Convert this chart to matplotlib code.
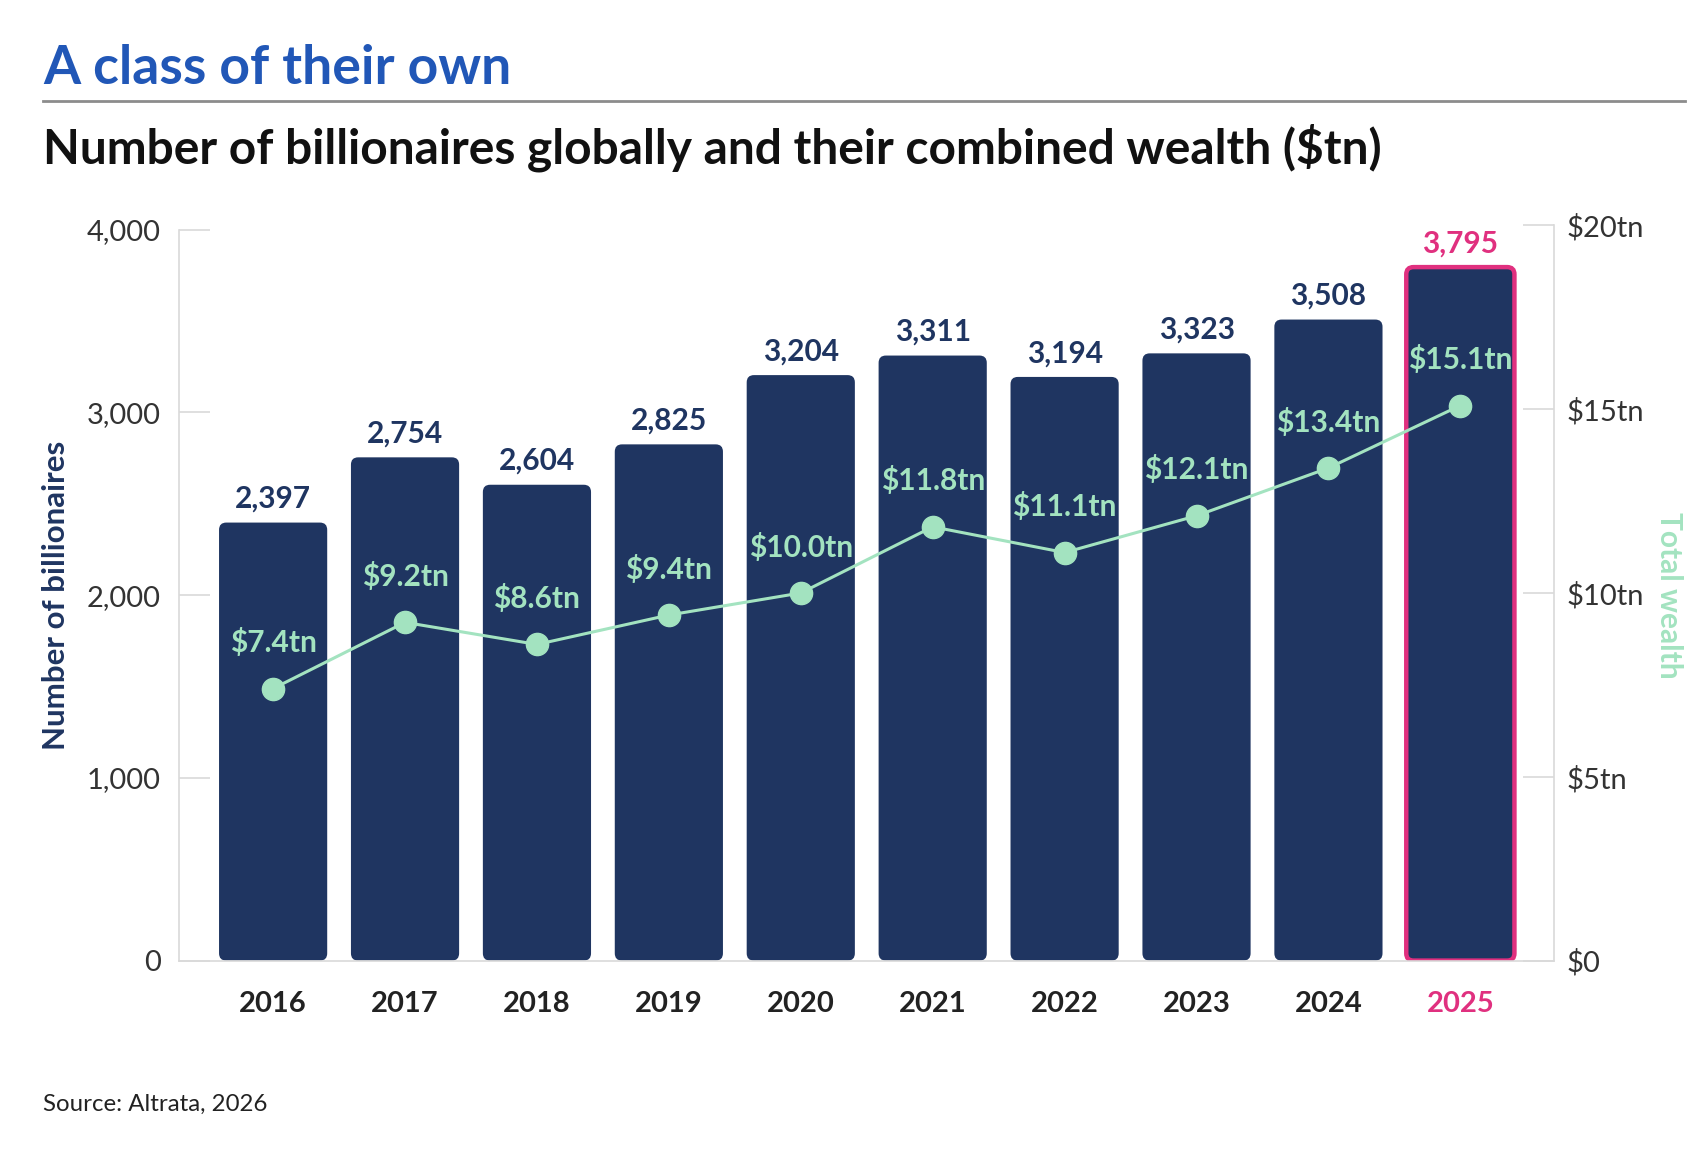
import matplotlib
matplotlib.use('Agg')
import matplotlib.pyplot as plt
from matplotlib.patches import FancyBboxPatch

# data
years = ['2016', '2017', '2018', '2019', '2020', '2021', '2022', '2023', '2024', '2025']
billionaires = [2397, 2754, 2604, 2825, 3204, 3311, 3194, 3323, 3508, 3795]
wealth_tn = [7.4, 9.2, 8.6, 9.4, 10.0, 11.8, 11.1, 12.1, 13.4, 15.1]
left_ticks = [0, 1000, 2000, 3000, 4000]
right_ticks = [0, 5, 10, 15, 20]
right_ticklabels = ['$0', '$5tn', '$10tn', '$15tn', '$20tn']

NAVY = '#1f3561'
PINK = '#e0307f'
MINT = '#a3e3c0'
BLUE = '#2157b7'
GRID = '#d9d9d9'

plt.rcParams['font.family'] = ['Lato', 'DejaVu Sans']

fig = plt.figure(figsize=(16.98, 11.54), dpi=100)
ax_rect = [0.1053, 0.1676, 0.8099, 0.6334]
ax = fig.add_axes(ax_rect)
ax.set_xlim(-0.715, 9.71)
ax.set_ylim(0, 4000)

x = list(range(len(years)))
bars = ax.bar(x, billionaires, width=0.82, color=NAVY)

# swap plain bars for rounded ones
px_x = ax.get_position().width * fig.get_figwidth() * fig.dpi / (9.71 + 0.715)
px_y = ax.get_position().height * fig.get_figheight() * fig.dpi / 4000
for i, b in enumerate(bars):
    b.set_visible(False)
    last = i == len(bars) - 1
    p = FancyBboxPatch((b.get_x(), 0), b.get_width(), b.get_height(),
                       boxstyle='round,pad=0,rounding_size=0.055',
                       mutation_aspect=px_x / px_y,
                       facecolor=NAVY,
                       edgecolor=PINK if last else 'none',
                       linewidth=3.2 if last else 0, zorder=2)
    ax.add_patch(p)
    ax.annotate(f'{billionaires[i]:,}', (i, billionaires[i]), xytext=(0, 7),
                textcoords='offset points', ha='center', va='bottom',
                fontsize=21.5, fontweight='bold', color=PINK if last else NAVY)

for s in ['top', 'right']:
    ax.spines[s].set_visible(False)
ax.spines['left'].set_color(GRID)
ax.spines['bottom'].set_color(GRID)
ax.spines['left'].set_linewidth(1.2)
ax.spines['bottom'].set_linewidth(1.2)
ax.set_yticks(left_ticks)
ax.set_yticklabels([f'{t:,}' for t in left_ticks])
ax.tick_params(axis='y', direction='in', length=22, width=1.2, color=GRID,
               labelsize=21, labelcolor='#333333', pad=13)
ax.set_xticks(x)
ax.set_xticklabels(years)
ax.tick_params(axis='x', length=0, pad=22, labelsize=21, labelcolor='#222222')
for lbl in ax.get_xticklabels():
    lbl.set_fontweight('bold')
ax.get_xticklabels()[-1].set_color(PINK)

# right axis sits a few pixels taller than the left one in the original
ax2 = fig.add_axes([ax_rect[0], ax_rect[1], ax_rect[2], ax_rect[3] + 0.0037],
                   sharex=ax)
ax2.patch.set_visible(False)
ax2.set_ylim(0, 20)
ax2.yaxis.tick_right()
ax2.xaxis.set_visible(False)
ax2.plot(x, wealth_tn, color=MINT, linewidth=2.2, marker='o', markersize=16,
         zorder=3)
for i, w in enumerate(wealth_tn):
    ax2.annotate(f'${w:.1f}tn', (i, w), xytext=(0, 33), textcoords='offset points',
                 ha='center', va='center', fontsize=21.5, fontweight='bold',
                 color=MINT)
for s in ['top', 'left', 'bottom']:
    ax2.spines[s].set_visible(False)
ax2.spines['right'].set_color(GRID)
ax2.spines['right'].set_linewidth(1.2)
ax2.set_yticks(right_ticks)
ax2.set_yticklabels(right_ticklabels)
ax2.tick_params(axis='y', direction='in', length=22, width=1.2, color=GRID,
                labelsize=21, labelcolor='#333333', pad=9)

fig.text(0.033, 0.484, 'Number of billionaires', rotation=90, ha='center',
         va='center', fontsize=22.5, fontweight='bold', color=NAVY)
fig.text(0.983, 0.484, 'Total wealth', rotation=270, ha='center',
         va='center', fontsize=21.5, fontweight='bold', color=MINT)

fig.text(0.0255, 0.927, 'A class of their own', fontsize=38.5, fontweight='bold',
         color=BLUE, ha='left', va='baseline')
fig.add_artist(plt.Line2D([0.0255, 0.9923], [0.9127, 0.9127], color='#8c8c8c',
                          linewidth=2))
fig.text(0.0255, 0.858, 'Number of billionaires globally and their combined wealth ($tn)',
         fontsize=34.5, fontweight='bold', color='#111111', ha='left', va='baseline')
fig.text(0.0255, 0.037, 'Source: Altrata, 2026', fontsize=17.3, color='#222222',
         ha='left', va='baseline')

fig.savefig('out.png', dpi=100)
